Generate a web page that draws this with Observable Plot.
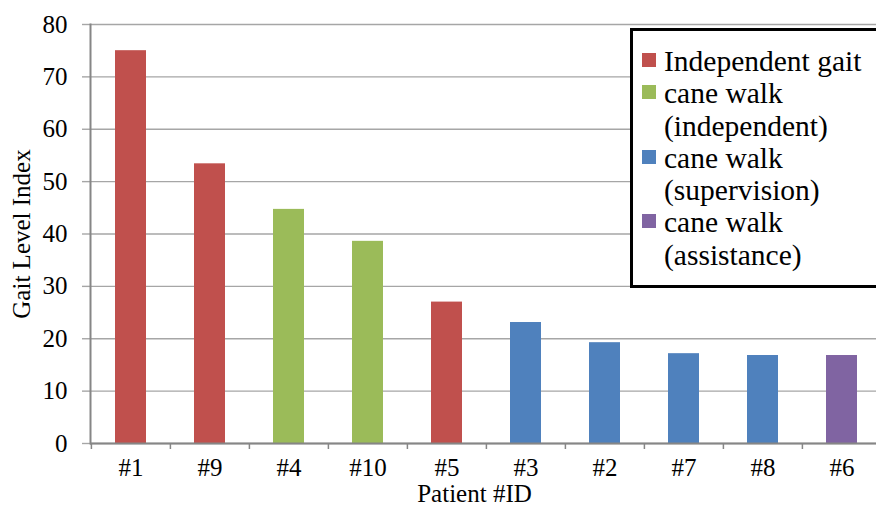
<!DOCTYPE html>
<html>
<head>
<meta charset="utf-8">
<script src="https://cdn.jsdelivr.net/npm/d3@7"></script>
<script src="https://cdn.jsdelivr.net/npm/@observablehq/plot@0.6"></script>
<style>
  html, body { margin: 0; padding: 0; background: #fff; overflow: hidden; }
  #wrap { position: relative; width: 876px; height: 514px; }
  #legend {
    position: absolute; left: 630px; top: 28px; width: 238px; height: 240px;
    border: 3px solid #000; background: #fff;
    font-family: "Liberation Serif", serif; font-size: 29.5px; line-height: 32.3px; color: #000;
    padding: 14px 0 0 9px; box-sizing: content-box;
  }
  .entry { display: flex; align-items: flex-start; }
  .swatch { width: 14px; height: 14px; flex: none; margin: 8px 8px 0 0; }
  .label { width: 210px; }
</style>
</head>
<body>
<div id="wrap"></div>
<script>
// Patients ordered by Gait Level Index
const patients = ["#1", "#9", "#4", "#10", "#5", "#3", "#2", "#7", "#8", "#6"];
const gaitLevelIndex = [75.0, 53.4, 44.7, 38.6, 27.0, 23.1, 19.25, 17.15, 16.8, 16.8];
const walkingStatus = [
  "Independent gait", "Independent gait",
  "cane walk (independent)", "cane walk (independent)",
  "Independent gait",
  "cane walk (supervision)", "cane walk (supervision)", "cane walk (supervision)", "cane walk (supervision)",
  "cane walk (assistance)"
];
const statusNames = ["Independent gait", "cane walk (independent)", "cane walk (supervision)", "cane walk (assistance)"];
const statusColors = ["#c0504d", "#9bbb59", "#4f81bd", "#8064a2"];
const yTicks = [0, 10, 20, 30, 40, 50, 60, 70, 80];

const rows = patients.map((p, i) => ({patient: p, gli: gaitLevelIndex[i], status: walkingStatus[i]}));

const W = 876, H = 514, mL = 90, mR = -6;
const step = (W - mL - mR) / patients.length;

const chart = Plot.plot({
  width: W, height: H,
  marginLeft: mL, marginRight: mR, marginTop: 24, marginBottom: 71,
  style: {fontFamily: "Liberation Serif", fontSize: "25px", color: "#000", background: "#fff", overflow: "hidden"},
  x: {domain: patients, paddingInner: 0.61, paddingOuter: 0.305, axis: null},
  y: {domain: [0, 80], axis: null},
  color: {domain: statusNames, range: statusColors},
  marks: [
    Plot.gridY(yTicks, {stroke: "#a6a6a6", strokeOpacity: 1, strokeWidth: 1.4}),
    Plot.axisY({ticks: yTicks, tickSize: 8, tickPadding: 15, label: null, stroke: "#a6a6a6", strokeWidth: 1.4, fontSize: 25}),
    Plot.barY(rows, {x: "patient", y: "gli", fill: "status"}),
    Plot.ruleY([0], {stroke: "#868686", strokeWidth: 2}),
    Plot.frame({anchor: "left", stroke: "#868686", strokeWidth: 2}),
    Plot.axisX({ticks: patients, tickSize: 6, tickFormat: () => "", label: null, stroke: "#868686", strokeWidth: 1.5, dx: -step / 2}),
    Plot.text(patients, {x: d => d, frameAnchor: "bottom", dy: 32, fontSize: 25}),
    Plot.text(["Gait Level Index"], {frameAnchor: "left", textAnchor: "middle", rotate: -90, dx: -69, fontSize: 25}),
    Plot.text(["Patient #ID"], {frameAnchor: "bottom", dy: 58, dx: -12, fontSize: 25})
  ]
});

const wrap = document.getElementById("wrap");
wrap.appendChild(chart);

// Legend box
const legend = document.createElement("div");
legend.id = "legend";
statusNames.forEach((name, i) => {
  const entry = document.createElement("div");
  entry.className = "entry";
  const sw = document.createElement("div");
  sw.className = "swatch";
  sw.style.background = statusColors[i];
  const lab = document.createElement("div");
  lab.className = "label";
  lab.textContent = name;
  entry.appendChild(sw);
  entry.appendChild(lab);
  legend.appendChild(entry);
});
wrap.appendChild(legend);
</script>
</body>
</html>
